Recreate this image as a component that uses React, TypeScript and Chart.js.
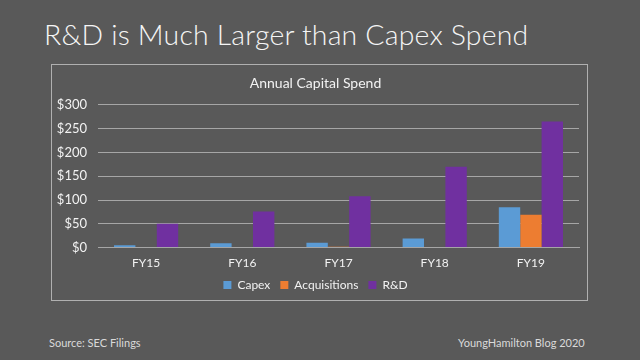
import React, { useEffect, useRef } from "react";
import { Chart, registerables } from "chart.js";

Chart.register(...registerables);

const categories = ["FY15", "FY16", "FY17", "FY18", "FY19"];
const capex = [5, 9, 10, 19, 85];
const acquisitions = [0, 0, 2, 0, 69];
const rnd = [50, 76, 108, 170, 265];
const yTicks = [0, 50, 100, 150, 200, 250, 300];

const FONT = "Lato, 'Open Sans', sans-serif";
const TEXT = "#F2F2F2";
const GRID = "#A6A6A6";

export default function App() {
  const ref = useRef<HTMLCanvasElement>(null);
  useEffect(() => {
    if (!ref.current) return;
    const chart = new Chart(ref.current, {
      type: "bar",
      data: {
        labels: categories,
        datasets: [
          { label: "Capex", data: capex, backgroundColor: "#5B9BD5" },
          { label: "Acquisitions", data: acquisitions, backgroundColor: "#ED7D31" },
          { label: "R&D", data: rnd, backgroundColor: "#7030A0" },
        ],
      },
      options: {
        animation: false,
        responsive: false,
        maintainAspectRatio: false,
        datasets: { bar: { categoryPercentage: 0.667, barPercentage: 1.0 } },
        layout: { padding: { left: 0, right: 8, top: 4, bottom: 0 } },
        plugins: {
          title: {
            display: true,
            text: "Annual Capital Spend",
            color: TEXT,
            font: { family: FONT, size: 14, weight: "normal" },
            padding: { top: 6, bottom: 13 },
          },
          legend: {
            position: "bottom",
            labels: {
              color: TEXT,
              font: { family: FONT, size: 12 },
              boxWidth: 8,
              boxHeight: 8,
              padding: 10,
            },
          },
          tooltip: { enabled: false },
        },
        scales: {
          x: {
            afterFit: (axis: any) => {
              axis.height = axis.height - 9;
            },
            grid: { display: false, drawTicks: false },
            border: { display: true, color: GRID, width: 1 },
            ticks: { color: TEXT, font: { family: FONT, size: 12 }, padding: 8 },
          },
          y: {
            min: 0,
            max: 300,
            afterBuildTicks: (axis: any) => {
              axis.ticks = yTicks.map((v) => ({ value: v }));
            },
            afterFit: (axis: any) => {
              axis.width = 46;
            },
            grid: { color: GRID, lineWidth: 1, drawTicks: false },
            border: { display: false },
            ticks: {
              color: TEXT,
              font: { family: FONT, size: 13 },
              padding: 11,
              callback: (v: any) => "$" + v,
            },
          },
        },
      },
    });
    return () => chart.destroy();
  }, []);

  return (
    <div
      style={{
        position: "fixed",
        left: 0,
        top: 0,
        width: 640,
        height: 360,
        background: "#595959",
        fontFamily: FONT,
        overflow: "hidden",
      }}
    >
      <div
        style={{
          position: "absolute",
          left: 44,
          top: 17,
          fontSize: 28.4,
          fontWeight: 300,
          color: "#F5F5F5",
          whiteSpace: "nowrap",
          letterSpacing: 0.2,
        }}
      >
        R&amp;D is Much Larger than Capex Spend
      </div>
      <canvas
        ref={ref}
        width={535}
        height={236}
        style={{ display: "block", position: "absolute", left: 52, top: 65 }}
      />
      <div
        style={{
          position: "absolute",
          left: 51,
          top: 64,
          width: 535,
          height: 235,
          border: "1px solid #B0B0B0",
          pointerEvents: "none",
        }}
      />
      <div style={{ position: "absolute", left: 49, top: 336, fontSize: 11, color: "#D9D9D9" }}>
        Source: SEC Filings
      </div>
      <div style={{ position: "absolute", left: 458, top: 336, fontSize: 11, color: "#D9D9D9" }}>
        YoungHamilton Blog 2020
      </div>
    </div>
  );
}
